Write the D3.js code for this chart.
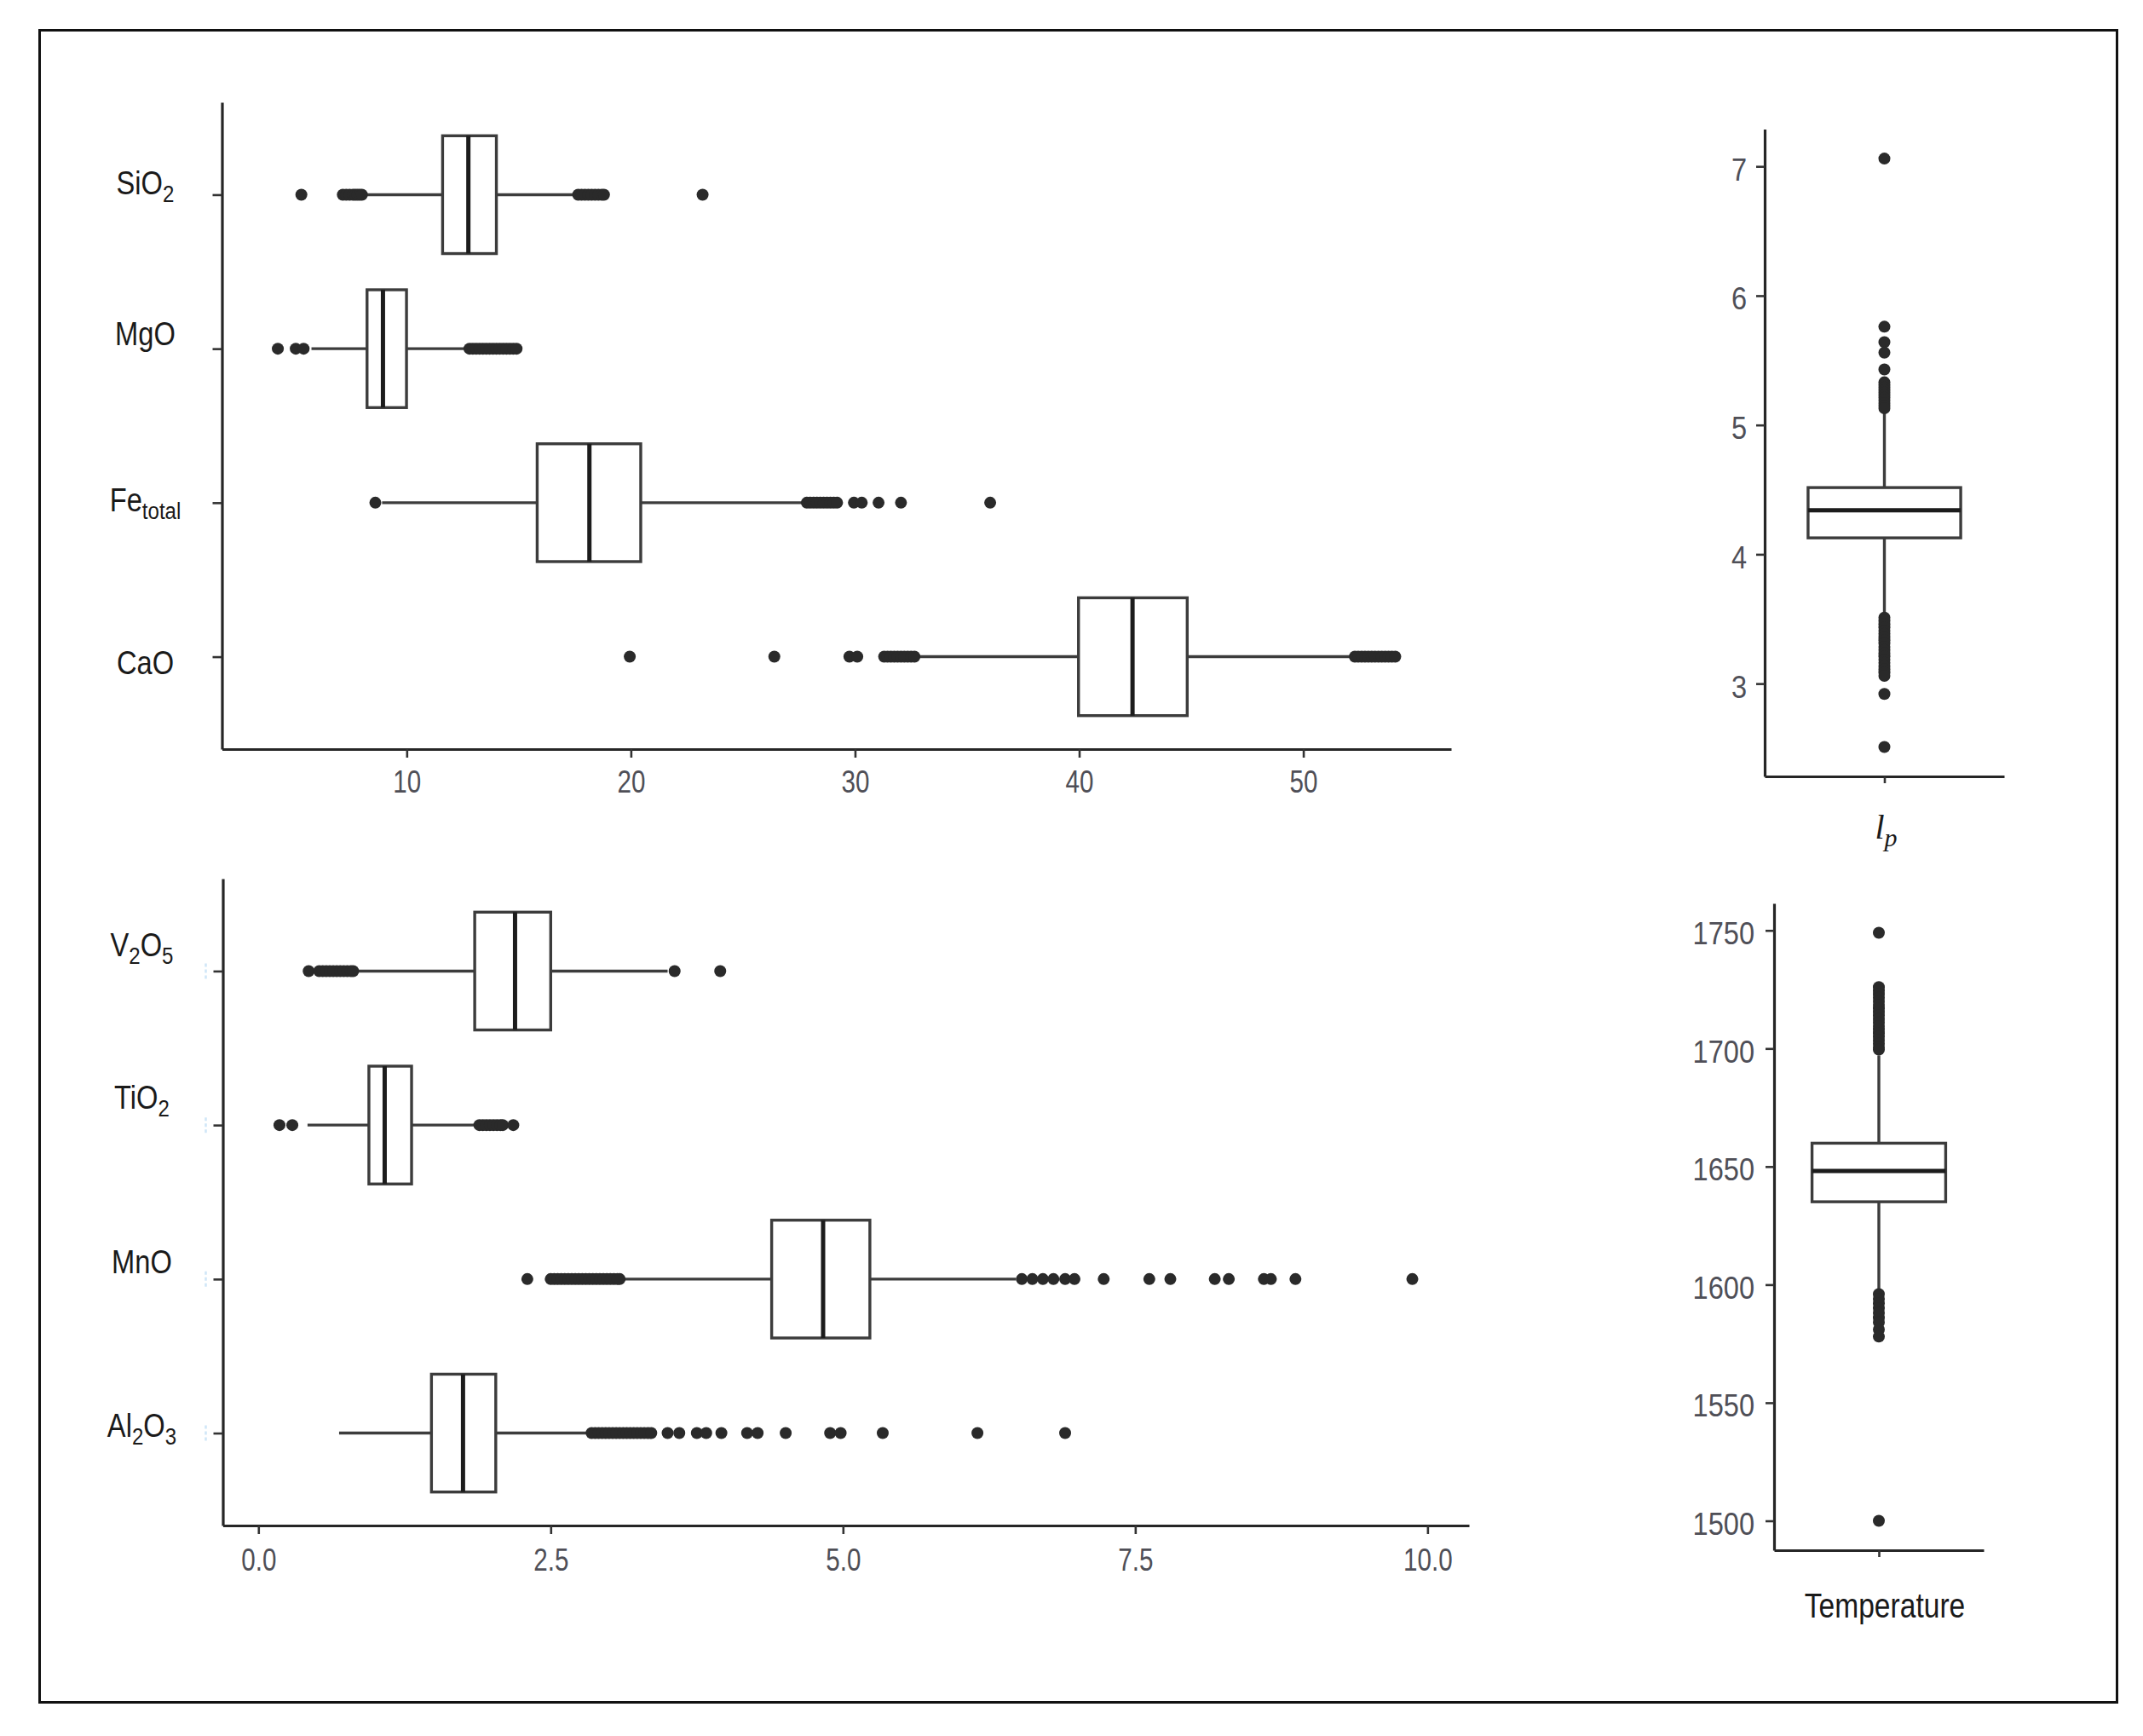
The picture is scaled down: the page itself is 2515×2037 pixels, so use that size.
<!DOCTYPE html>
<html>
<head>
<meta charset="utf-8">
<script src="https://cdn.jsdelivr.net/npm/d3@7"></script>
<style>
  html, body { margin: 0; padding: 0; background: #ffffff; }
  svg { display: block; }
</style>
</head>
<body>
<svg id="chart" width="2515" height="2037"></svg>
<script>
// ---------------- DATA ----------------
// Top-left panel (wt.%)
const topCategories = ["SiO2", "MgO", "Fe_total", "CaO"];
const topLabelParts = [
  [["SiO", 0], ["2", 1]],
  [["MgO", 0]],
  [["Fe", 0], ["total", 1]],
  [["CaO", 0]]
];
const topWhiskerLow  = [8.05, 5.75, 8.9, 32.75];
const topQ1          = [11.6, 8.23, 15.82, 39.97];
const topMedian      = [12.75, 8.94, 18.15, 42.38];
const topQ3          = [14.0, 9.99, 20.44, 44.82];
const topWhiskerHigh = [17.5, 12.6, 27.7, 52.2];
const topOutliers = [
  [5.3, 7.15, 7.3, 7.45, 7.6, 7.7, 7.8, 7.9, 8.0,
   17.65, 17.8, 17.95, 18.1, 18.25, 18.4, 18.55, 18.7, 18.8, 23.2],
  [4.25, 5.05, 5.4,
   12.8, 12.95, 13.1, 13.25, 13.4, 13.55, 13.7, 13.85, 14.0, 14.15, 14.3, 14.45, 14.6, 14.75, 14.9],
  [8.6, 27.85, 28.0, 28.15, 28.3, 28.45, 28.6, 28.75, 28.9, 29.05, 29.2,
   29.95, 30.3, 31.05, 32.05, 36.03],
  [19.95, 26.4, 29.75, 30.1,
   31.3, 31.45, 31.6, 31.75, 31.9, 32.05, 32.2, 32.35, 32.5, 32.65,
   52.3, 52.45, 52.6, 52.75, 52.9, 53.05, 53.2, 53.35, 53.5, 53.65, 53.8, 53.95, 54.1]
];
const topTicks = [10, 20, 30, 40, 50];

// Bottom-left panel (wt.%)
const bottomCategories = ["V2O5", "TiO2", "MnO", "Al2O3"];
const bottomLabelParts = [
  [["V", 0], ["2", 1], ["O", 0], ["5", 1]],
  [["TiO", 0], ["2", 1]],
  [["MnO", 0]],
  [["Al", 0], ["2", 1], ["O", 0], ["3", 1]]
];
const bottomWhiskerLow  = [0.84, 0.42, 3.12, 0.69];
const bottomQ1          = [1.85, 0.945, 4.39, 1.48];
const bottomMedian      = [2.195, 1.08, 4.83, 1.75];
const bottomQ3          = [2.5, 1.31, 5.23, 2.03];
const bottomWhiskerHigh = [3.5, 1.86, 6.48, 2.82];
const bottomOutliers = [
  [0.43, 0.52, 0.55, 0.58, 0.61, 0.64, 0.67, 0.7, 0.73, 0.76, 0.79, 0.81, 3.56, 3.95],
  [0.18, 0.29, 1.89, 1.92, 1.95, 1.98, 2.01, 2.04, 2.07, 2.09, 2.18],
  [2.3, 2.5, 2.53, 2.56, 2.59, 2.62, 2.65, 2.68, 2.71, 2.74, 2.77, 2.8, 2.83, 2.86, 2.89,
   2.92, 2.95, 2.98, 3.01, 3.04, 3.07, 3.09,
   6.53, 6.62, 6.71, 6.8, 6.9, 6.98, 7.23, 7.62, 7.8, 8.18, 8.3, 8.6, 8.66, 8.87, 9.87],
  [2.85, 2.88, 2.91, 2.94, 2.97, 3.0, 3.03, 3.06, 3.09, 3.12, 3.15, 3.18, 3.21, 3.24, 3.27,
   3.3, 3.33, 3.36, 3.5, 3.6, 3.75, 3.83,
   3.96, 4.18, 4.27, 4.51, 4.89, 4.98, 5.34, 6.15, 6.9]
];
const bottomTicks = [0, 2.5, 5, 7.5, 10];

// Top-right panel: l_p
const lpWhiskerLow = 3.54, lpQ1 = 4.127, lpMedian = 4.34, lpQ3 = 4.516, lpWhiskerHigh = 5.09;
const lpOutliers = [7.06, 5.76, 5.64, 5.56, 5.43,
  5.33, 5.31, 5.29, 5.27, 5.25, 5.23, 5.21, 5.19, 5.17, 5.15, 5.13,
  3.51, 3.485, 3.46, 3.435, 3.41, 3.385, 3.36, 3.335, 3.31, 3.285, 3.26, 3.235, 3.21,
  3.185, 3.16, 3.135, 3.11, 3.085, 3.06, 2.92, 2.51];
const lpTicks = [3, 4, 5, 6, 7];

// Bottom-right panel: Temperature
const tempWhiskerLow = 1598, tempQ1 = 1635.1, tempMedian = 1648.1, tempQ3 = 1659.9, tempWhiskerHigh = 1697;
const tempOutliers = [1749,
  1726, 1724.5, 1723, 1721.5, 1720, 1718.5, 1717, 1715.5, 1714, 1712.5, 1711, 1709.5,
  1708, 1706.5, 1705, 1703.5, 1702, 1700.5, 1699.5,
  1596, 1594, 1592, 1590, 1588, 1586, 1584, 1581, 1578, 1500];
const tempTicks = [1500, 1550, 1600, 1650, 1700, 1750];

// ---------------- STYLE ----------------
const FONT = "'Liberation Sans', Arial, Helvetica, sans-serif";
const BOX_STROKE = "#3c3c3c", MEDIAN_STROKE = "#1c1c1c", POINT_FILL = "#2a2a2a";
const AXIS_STROKE = "#262626", TICK_TEXT = "#4f4f57", LABEL_TEXT = "#1a1a1a";
const POINT_R = 7;
const BOX_FRAC = 0.765;
const LINE_W = 3.4, MEDIAN_W = 5;

const svg = d3.select("#chart");
svg.append("rect").attr("width", 2515).attr("height", 2037).attr("fill", "#fff");
svg.append("rect")
  .attr("x", 46.5).attr("y", 35.5).attr("width", 2438).attr("height", 1962)
  .attr("fill", "none").attr("stroke", "#111").attr("stroke-width", 3);

function expand(vals) {
  const [a, b] = d3.extent(vals);
  const d = b - a;
  return [a - 0.05 * d, b + 0.05 * d];
}

function styleDomain(g) {
  g.select(".domain").attr("stroke", AXIS_STROKE).attr("stroke-width", 3.2);
  g.selectAll(".tick line").attr("stroke", "#333").attr("stroke-width", 2.6);
}

function addLabel(parent, parts, tx, ty, size, subSize, subDy, sx) {
  const t = parent.append("text")
    .attr("transform", `translate(${tx},${ty}) scale(${sx},1)`)
    .attr("text-anchor", "middle")
    .attr("font-family", FONT)
    .attr("font-size", size)
    .attr("fill", LABEL_TEXT);
  let shift = 0;
  parts.forEach(([txt, sub]) => {
    const target = sub ? subDy : 0;
    const sp = t.append("tspan").text(txt).attr("dy", target - shift);
    if (sub) sp.attr("font-size", subSize);
    shift = target;
  });
  return t;
}

function horizontalPanel(o) {
  const g = svg.append("g");
  const allVals = o.outliers.flat().concat(o.wlo, o.whi);
  const x = d3.scaleLinear().domain(expand(allVals)).range([o.left, o.right]);
  const y = d3.scalePoint().domain(o.cats).range([o.top, o.bottom]).padding(0.6);
  const bw = y.step() * BOX_FRAC;

  // x axis
  const xa = g.append("g").attr("transform", `translate(0,${o.bottom})`)
    .call(d3.axisBottom(x).tickValues(o.ticks).tickFormat(d3.format(o.fmt)).tickSize(10).tickSizeOuter(0));
  xa.attr("font-family", FONT).attr("font-size", 37);
  styleDomain(xa);
  xa.selectAll(".tick text").attr("y", o.tickBaseline).attr("dy", null)
    .attr("fill", TICK_TEXT).attr("transform", "scale(0.8,1)");

  // y axis
  const ya = g.append("g").attr("transform", `translate(${o.left},0)`)
    .call(d3.axisLeft(y).tickSize(11).tickSizeOuter(0).tickFormat(""));
  styleDomain(ya);

  if (o.faintMarks) {
    g.append("g").selectAll("line").data(o.cats).join("line")
      .attr("x1", o.left - 20).attr("x2", o.left - 20)
      .attr("y1", d => y(d) - 9).attr("y2", d => y(d) + 9)
      .attr("stroke", "#cfe6f7").attr("stroke-width", 2.5).attr("stroke-dasharray", "4 3");
  }

  // category labels
  o.cats.forEach((c, i) => {
    addLabel(g, o.labels[i], o.left - o.labelDx, y(c) + o.labelNudge[i], 38, 28, 9, 0.86);
  });

  // boxes
  o.cats.forEach((c, i) => {
    const cy = y(c);
    g.append("line").attr("x1", x(o.wlo[i])).attr("x2", x(o.q1[i])).attr("y1", cy).attr("y2", cy)
      .attr("stroke", BOX_STROKE).attr("stroke-width", LINE_W);
    g.append("line").attr("x1", x(o.q3[i])).attr("x2", x(o.whi[i])).attr("y1", cy).attr("y2", cy)
      .attr("stroke", BOX_STROKE).attr("stroke-width", LINE_W);
    g.append("rect").attr("x", x(o.q1[i])).attr("y", cy - bw / 2)
      .attr("width", x(o.q3[i]) - x(o.q1[i])).attr("height", bw)
      .attr("fill", "#fff").attr("stroke", BOX_STROKE).attr("stroke-width", LINE_W);
    g.append("line").attr("x1", x(o.med[i])).attr("x2", x(o.med[i]))
      .attr("y1", cy - bw / 2).attr("y2", cy + bw / 2)
      .attr("stroke", MEDIAN_STROKE).attr("stroke-width", MEDIAN_W);
    g.append("g").selectAll("circle").data(o.outliers[i]).join("circle")
      .attr("cx", d => x(d)).attr("cy", cy).attr("r", POINT_R).attr("fill", POINT_FILL);
  });
}

function verticalPanel(o) {
  const g = svg.append("g");
  const allVals = o.outliers.concat([o.wlo, o.whi]);
  const y = d3.scaleLinear().domain(expand(allVals)).range([o.bottom, o.top]);
  const x = d3.scalePoint().domain([o.name]).range([o.left, o.right]).padding(0.6);
  const bw = x.step() * BOX_FRAC;
  const cx = x(o.name);

  const ya = g.append("g").attr("transform", `translate(${o.left},0)`)
    .call(d3.axisLeft(y).tickValues(o.ticks).tickFormat(d3.format("d")).tickSize(10).tickSizeOuter(0));
  ya.attr("font-family", FONT).attr("font-size", 37);
  styleDomain(ya);
  ya.selectAll(".tick text").attr("x", -o.labelGap / 0.88).attr("y", 16).attr("dy", null)
    .attr("fill", TICK_TEXT).attr("transform", "scale(0.88,1)");

  const xa = g.append("g").attr("transform", `translate(0,${o.bottom})`)
    .call(d3.axisBottom(x).tickSize(8).tickSizeOuter(0).tickFormat(""));
  styleDomain(xa);

  g.append("line").attr("x1", cx).attr("x2", cx).attr("y1", y(o.wlo)).attr("y2", y(o.q1))
    .attr("stroke", BOX_STROKE).attr("stroke-width", LINE_W);
  g.append("line").attr("x1", cx).attr("x2", cx).attr("y1", y(o.q3)).attr("y2", y(o.whi))
    .attr("stroke", BOX_STROKE).attr("stroke-width", LINE_W);
  g.append("rect").attr("x", cx - bw / 2).attr("y", y(o.q3))
    .attr("width", bw).attr("height", y(o.q1) - y(o.q3))
    .attr("fill", "#fff").attr("stroke", BOX_STROKE).attr("stroke-width", LINE_W);
  g.append("line").attr("x1", cx - bw / 2).attr("x2", cx + bw / 2)
    .attr("y1", y(o.med)).attr("y2", y(o.med))
    .attr("stroke", MEDIAN_STROKE).attr("stroke-width", MEDIAN_W);
  g.append("g").selectAll("circle").data(o.outliers).join("circle")
    .attr("cx", cx).attr("cy", d => y(d)).attr("r", POINT_R).attr("fill", POINT_FILL);

  return { g, cx };
}

// ---------------- PANELS ----------------
horizontalPanel({
  cats: topCategories, labels: topLabelParts,
  wlo: topWhiskerLow, q1: topQ1, med: topMedian, q3: topQ3, whi: topWhiskerHigh,
  outliers: topOutliers, ticks: topTicks, fmt: "d",
  left: 260.5, right: 1703, top: 120, bottom: 879,
  tickBaseline: 51.5, labelDx: 90, labelNudge: [0, -4, 10, 20], faintMarks: false
});

horizontalPanel({
  cats: bottomCategories, labels: bottomLabelParts,
  wlo: bottomWhiskerLow, q1: bottomQ1, med: bottomMedian, q3: bottomQ3, whi: bottomWhiskerHigh,
  outliers: bottomOutliers, ticks: bottomTicks, fmt: ".1f",
  left: 261.5, right: 1724, top: 1031, bottom: 1790,
  tickBaseline: 53.5, labelDx: 95, labelNudge: [-17, -19, -7, 4], faintMarks: true
});

const lp = verticalPanel({
  name: "lp", wlo: lpWhiskerLow, q1: lpQ1, med: lpMedian, q3: lpQ3, whi: lpWhiskerHigh,
  outliers: lpOutliers, ticks: lpTicks,
  left: 2071, right: 2352, top: 151.6, bottom: 911, labelGap: 21
});
const lpText = lp.g.append("text")
  .attr("x", lp.cx + 2).attr("y", 984)
  .attr("text-anchor", "middle")
  .attr("font-family", "'Liberation Serif', 'DejaVu Serif', serif")
  .attr("font-style", "italic")
  .attr("font-size", 40)
  .attr("fill", LABEL_TEXT);
lpText.append("tspan").text("l");
lpText.append("tspan").text("p").attr("font-size", 30).attr("dy", 9);

const temp = verticalPanel({
  name: "Temperature", wlo: tempWhiskerLow, q1: tempQ1, med: tempMedian, q3: tempQ3, whi: tempWhiskerHigh,
  outliers: tempOutliers, ticks: tempTicks,
  left: 2082, right: 2328, top: 1060, bottom: 1819, labelGap: 23
});
temp.g.append("text")
  .attr("transform", `translate(${temp.cx + 7},1898) scale(0.84,1)`)
  .attr("text-anchor", "middle")
  .attr("font-family", FONT)
  .attr("font-size", 40)
  .attr("fill", LABEL_TEXT)
  .text("Temperature");
</script>
</body>
</html>
